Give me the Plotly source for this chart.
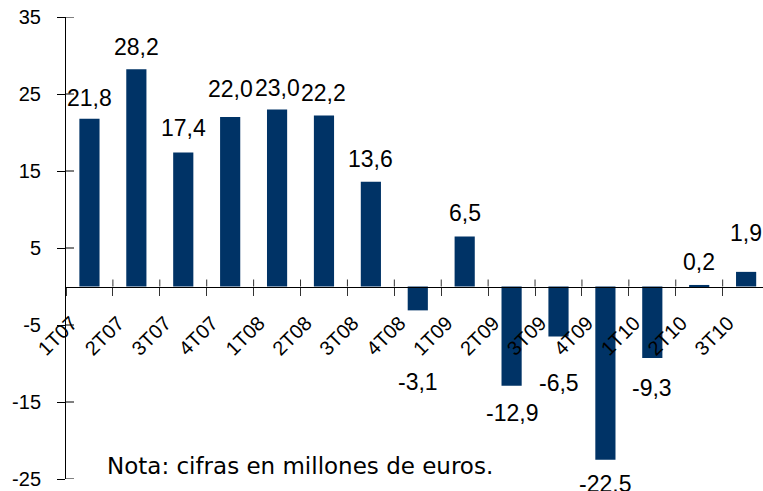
import plotly.graph_objects as go

# ---- data ----
quarters = ["1T07", "2T07", "3T07", "4T07", "1T08", "2T08", "3T08", "4T08",
            "1T09", "2T09", "3T09", "4T09", "1T10", "2T10", "3T10"]
values = [21.8, 28.2, 17.4, 22.0, 23.0, 22.2, 13.6, -3.1,
          6.5, -12.9, -6.5, -22.5, -9.3, 0.2, 1.9]
y_ticks = [-25, -15, -5, 5, 15, 25, 35]
note_text = "Nota: cifras en millones de euros."

# ---- style: pixel gap between bar end and its label ----
label_gap = [12, 13, 16, 19, 12, 14, 14, 62, 14, 17, 36, 14, 20, 14, 30]

BAR_COLOR = "#003366"
FONT = "Liberation Sans"

fig = go.Figure()
fig.add_trace(go.Bar(
    x=quarters, y=values, width=0.43,
    marker=dict(color=BAR_COLOR, line=dict(width=0)),
    hoverinfo="x+y",
))

annotations = []
for q, v, g in zip(quarters, values, label_gap):
    txt = f"{v:.1f}".replace(".", ",")
    if v >= 0:
        annotations.append(dict(x=q, y=v, xref="x", yref="y", text=txt,
                                showarrow=False, yanchor="bottom",
                                yshift=g - 6,
                                font=dict(family=FONT, size=23, color="black")))
    else:
        annotations.append(dict(x=q, y=v, xref="x", yref="y", text=txt,
                                showarrow=False, yanchor="top",
                                yshift=-(g - 5),
                                font=dict(family=FONT, size=23, color="black")))

annotations.append(dict(x=0.056, y=-0.005, xref="paper", yref="paper",
                        text=note_text, showarrow=False,
                        xanchor="left", yanchor="bottom",
                        font=dict(family="DejaVu Sans",
                                  size=23, color="black")))

shapes = []
# inner halves of the crossing ticks on the y axis
for t in y_ticks:
    shapes.append(dict(type="line", xref="paper", yref="y",
                       xsizemode="pixel", xanchor=0, x0=0, x1=8,
                       y0=t, y1=t, line=dict(color="black", width=1)))
# inner halves of the crossing ticks on the category axis
for i in range(1, len(quarters)):
    shapes.append(dict(type="line", xref="x", yref="y",
                       ysizemode="pixel", yanchor=0, y0=0, y1=7,
                       x0=i - 0.5, x1=i - 0.5,
                       line=dict(color="#333333", width=1)))

y_min, y_max = -25, 35
fig.update_layout(
    width=763, height=491,
    margin=dict(l=66, r=0, t=17, b=12),
    paper_bgcolor="white", plot_bgcolor="white",
    showlegend=False,
    bargap=0.57,
    annotations=annotations,
    shapes=shapes,
    font=dict(family=FONT, size=20, color="black"),
    xaxis=dict(
        type="category",
        range=[-0.5, 14.36],
        anchor="free",
        position=(0 - y_min) / (y_max - y_min),
        showline=True, linecolor="black", linewidth=1,
        tickson="boundaries", ticks="outside", ticklen=8,
        tickcolor="#333333", tickwidth=1,
        tickangle=-45,
        ticklabelstandoff=16,
        ticklabelshift=-18,
        tickfont=dict(family=FONT, size=20, color="black"),
        showgrid=False, zeroline=False,
    ),
    yaxis=dict(
        range=[y_min, y_max],
        tickvals=y_ticks,
        ticktext=[str(t) for t in y_ticks],
        showline=True, linecolor="black", linewidth=1,
        ticks="outside", ticklen=8, tickcolor="black", tickwidth=1,
        ticklabelstandoff=12,
        tickfont=dict(family=FONT, size=20, color="black"),
        showgrid=False, zeroline=False,
    ),
)

fig.write_html("out.html")
